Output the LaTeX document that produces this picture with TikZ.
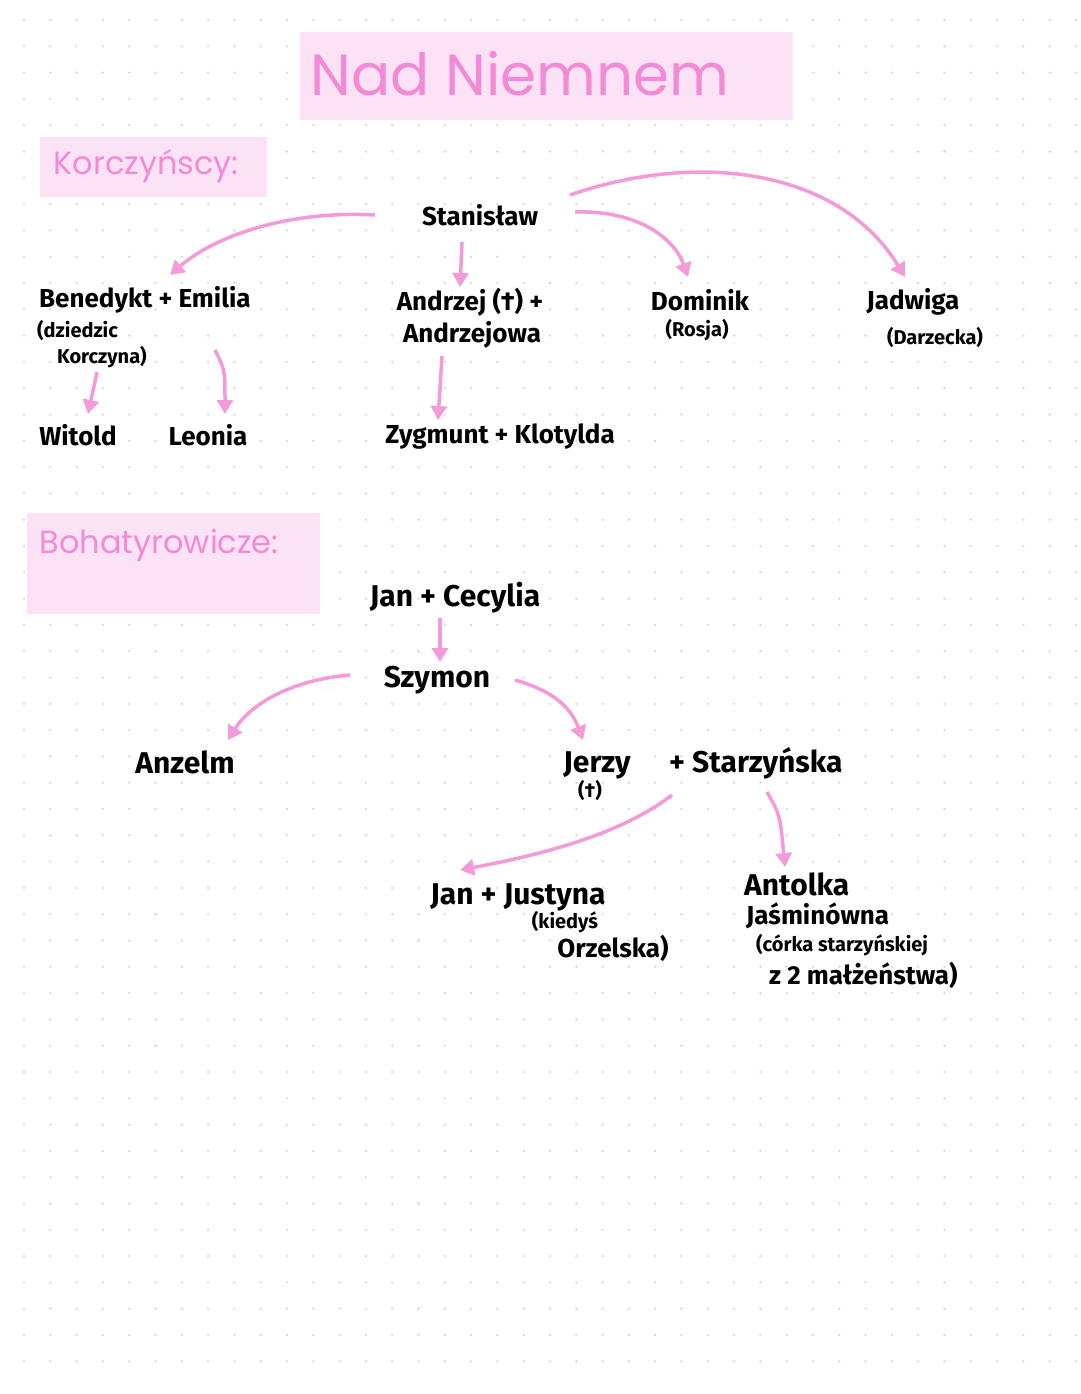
\documentclass[tikz,border=0pt]{standalone}
\usepackage{fontspec}
\setmainfont{Fira Sans}
\newfontfamily\titlefont{Poppins}
\usetikzlibrary{arrows.meta}
\definecolor{pinkfill}{HTML}{FCE2F5}
\definecolor{pinktext}{HTML}{F28AD6}
\definecolor{arr}{HTML}{F39AD9}
\tikzset{x=1pt,y=-1pt,
 hw/.style={font=\bfseries\fontsize{26}{28}\selectfont, text=black, inner sep=1pt},
 sm/.style={font=\bfseries\fontsize{20}{22}\selectfont, text=black, inner sep=1pt},
 big/.style={font=\bfseries\fontsize{30}{32}\selectfont, text=black, inner sep=1pt},
 link/.style={draw=arr, line width=3.5pt, -{Triangle[length=14pt,width=16pt]}},
 head/.style={font=\titlefont\fontsize{32}{34}\selectfont, text=pinktext, anchor=west}}
\begin{document}
\begin{tikzpicture}
\useasboundingbox (0,0) rectangle (1080,1394);
\fill[white] (0,0) rectangle (1080,1394);
\foreach \i in {0,...,40} \foreach \j in {0,...,51}
  \fill[black!15] (24+26.3*\i, 20+26.3*\j) circle (1.3pt);
% headers
\fill[pinkfill] (300,32) rectangle (793,120);
\node[font=\titlefont\fontsize{58}{60}\selectfont, text=pinktext] (title) at (520,74) {Nad Niemnem};
\fill[pinkfill] (40,137) rectangle (267,197);
\node[head] (kor) at (50,166) {Korczyńscy:};
\fill[pinkfill] (27,513) rectangle (320,614);
\node[head] (boh) at (36,545) {Bohatyrowicze:};
% Korczyńscy
\node[hw] (stan) at (480,215) {Stanisław};
\node[hw,anchor=west] (ben) at (38,300) {Benedykt + Emilia};
\node[sm,anchor=west] (dz) at (36,330) {(dziedzic};
\node[sm,anchor=west] (kc) at (56,357) {Korczyna)};
\node[hw] (and) at (470,302) {Andrzej (†) +};
\node[hw] (andw) at (472,335) {Andrzejowa};
\node[hw] (dom) at (700,300) {Dominik};
\node[sm] (ros) at (697,330) {(Rosja)};
\node[hw] (jad) at (913,302) {Jadwiga};
\node[sm] (dar) at (935,337) {(Darzecka)};
\node[hw] (wit) at (78,435) {Witold};
\node[hw] (leo) at (208,435) {Leonia};
\node[hw] (zyg) at (500,437) {Zygmunt + Klotylda};
\draw[link] (375,215) .. controls (280,210) and (210,240) .. (170,275);
\draw[link] (462,242) -- (460,287);
\draw[link] (575,212) .. controls (640,210) and (675,240) .. (688,277);
\draw[link] (570,195) .. controls (700,150) and (840,170) .. (905,277);
\draw[link] (97,372) -- (88,414);
\draw[link] (215,350) .. controls (225,370) .. (225,414);
\draw[link] (442,356) -- (438,420);
% Bohatyrowicze
\node[big] (jc) at (455,598) {Jan + Cecylia};
\node[big] (szy) at (437,680) {Szymon};
\node[big] (anz) at (185,762) {Anzelm};
\node[big] (jer) at (597,765) {Jerzy};
\node[sm] (jd) at (590,790) {(†)};
\node[big,anchor=west] (sta) at (668,763) {+ Starzyńska};
\node[big] (jj) at (518,897) {Jan + Justyna};
\node[sm] (kd) at (565,922) {(kiedyś};
\node[hw] (orz) at (613,948) {Orzelska)};
\node[big,anchor=west] (ant) at (743,884) {Antolka};
\node[hw,anchor=west] (jas) at (745,916) {Jaśminówna};
\node[sm,anchor=west] (cor) at (755,945) {(córka starzyńskiej};
\node[hw,anchor=west] (mal) at (768,975) {z 2 małżeństwa)};
\draw[link] (440,618) -- (440,662);
\draw[link] (350,675) .. controls (290,680) and (250,705) .. (228,740);
\draw[link] (515,680) .. controls (550,690) and (570,705) .. (583,740);
\draw[link] (672,795) .. controls (620,835) and (540,855) .. (460,870);
\draw[link] (767,792) .. controls (780,815) .. (785,867);
\end{tikzpicture}
\end{document}
